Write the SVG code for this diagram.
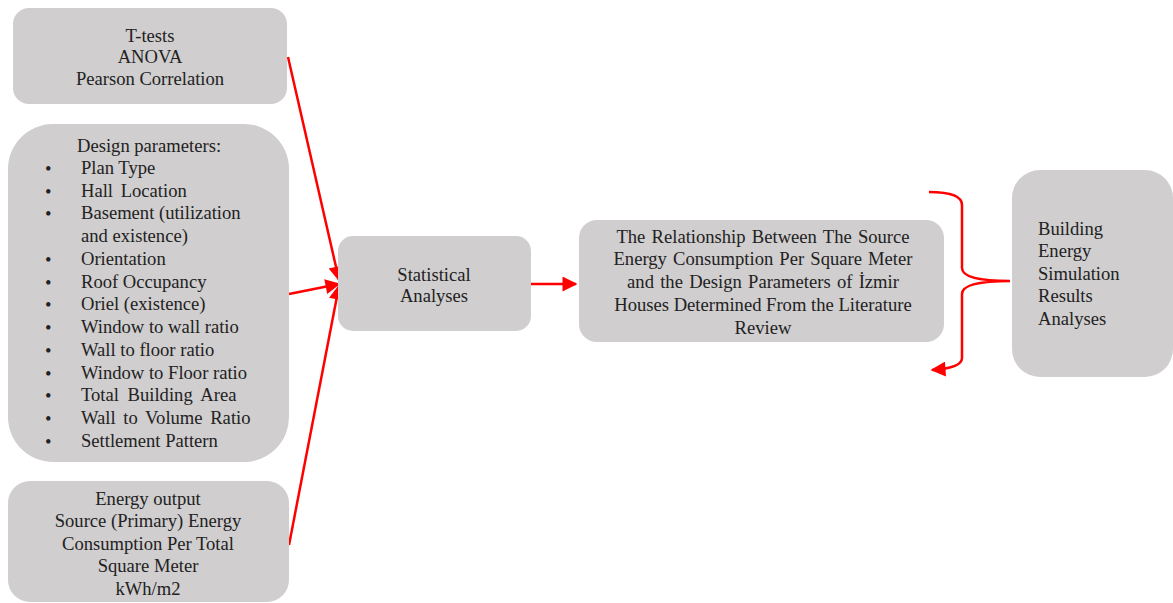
<svg xmlns="http://www.w3.org/2000/svg" width="1173" height="603" viewBox="0 0 1173 603">
<style>
.box{fill:#d0cecf;stroke:none}
.t{font-family:"Liberation Serif","Times New Roman",serif;font-size:18.6px;fill:#222}
.c{text-anchor:middle}
.ln{stroke:#ff0000;stroke-width:2.5;fill:none}
</style>
<defs>
<marker id="ah" viewBox="0 0 10 10" refX="9" refY="5" markerWidth="7" markerHeight="6" markerUnits="strokeWidth" orient="auto">
<path d="M0,0 L10,5 L0,10 Z" fill="#ff0000"/>
</marker>
</defs>
<rect width="1173" height="603" fill="#ffffff"/>
<g id="connectors">
<line class="ln" x1="288" y1="57" x2="339" y2="280" marker-end="url(#ah)"/>
<line class="ln" x1="289" y1="294" x2="339" y2="284" marker-end="url(#ah)"/>
<line class="ln" x1="289" y1="545" x2="339" y2="286" marker-end="url(#ah)"/>
<line class="ln" x1="531" y1="284" x2="576" y2="284" marker-end="url(#ah)"/>
<path class="ln" d="M929,192 Q962,192 962,205 L962,268 Q962,281 1010,281 M1010,281 Q962,281 962,294 L962,358 Q962,368 932,370" marker-end="url(#ah)"/>
</g>
<g class="t">
<g id="node-tests">
<rect class="box" x="13" y="8" width="274" height="96" rx="16"/>
<text class="c" x="150" y="42">T-tests</text>
<text class="c" x="150" y="63">ANOVA</text>
<text class="c" x="150" y="85">Pearson Correlation</text>
</g>
<g id="node-design">
<rect class="box" x="8" y="124" width="281" height="338" rx="45"/>
<text x="77" y="152">Design parameters:</text>
<text x="45" y="175">•</text><text x="81" y="174">Plan Type</text>
<text x="45" y="198">•</text><text x="81" y="197" word-spacing="3">Hall Location</text>
<text x="45" y="220">•</text><text x="81" y="219">Basement (utilization</text>
<text x="81" y="242">and existence)</text>
<text x="45" y="266">•</text><text x="81" y="265">Orientation</text>
<text x="45" y="289">•</text><text x="81" y="288">Roof Occupancy</text>
<text x="45" y="311">•</text><text x="81" y="310">Oriel (existence)</text>
<text x="45" y="334">•</text><text x="81" y="333">Window to wall ratio</text>
<text x="45" y="357">•</text><text x="81" y="356">Wall to floor ratio</text>
<text x="45" y="380">•</text><text x="81" y="379">Window to Floor ratio</text>
<text x="45" y="402">•</text><text x="81" y="401" word-spacing="4">Total Building Area</text>
<text x="45" y="425">•</text><text x="81" y="424" word-spacing="3">Wall to Volume Ratio</text>
<text x="45" y="448">•</text><text x="81" y="447">Settlement Pattern</text>
</g>
<g id="node-energy">
<rect class="box" x="8" y="481" width="281" height="121" rx="22"/>
<text class="c" x="148" y="505">Energy output</text>
<text class="c" x="148" y="527">Source (Primary) Energy</text>
<text class="c" x="148" y="550">Consumption Per Total</text>
<text class="c" x="148" y="572">Square Meter</text>
<text class="c" x="148" y="595">kWh/m2</text>
</g>
<g id="node-stat">
<rect class="box" x="338" y="236" width="193" height="95" rx="15"/>
<text class="c" x="434" y="281">Statistical</text>
<text class="c" x="434" y="302">Analyses</text>
</g>
<g id="node-relationship">
<rect class="box" x="579" y="220" width="365" height="122" rx="18"/>
<text class="c" x="763" y="243" word-spacing="1.6">The Relationship Between The Source</text>
<text class="c" x="763" y="265" word-spacing="1.5">Energy Consumption Per Square Meter</text>
<text class="c" x="763" y="288" word-spacing="1.6">and the Design Parameters of İzmir</text>
<text class="c" x="763" y="311">Houses Determined From the Literature</text>
<text class="c" x="763" y="334">Review</text>
</g>
<g id="node-bes">
<rect class="box" x="1012" y="170" width="161" height="207" rx="28"/>
<text x="1038" y="235">Building</text>
<text x="1038" y="257">Energy</text>
<text x="1038" y="280">Simulation</text>
<text x="1038" y="302">Results</text>
<text x="1038" y="325">Analyses</text>
</g>
</g>
</svg>
